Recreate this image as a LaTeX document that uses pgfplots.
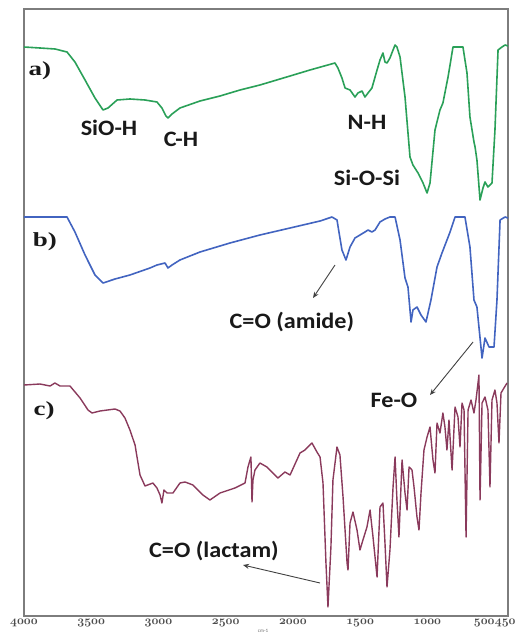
\documentclass[border=0pt]{standalone}
\usepackage{pgfplots}
\pgfplotsset{compat=1.18}
\usepackage{fontspec}
\setmainfont{Carlito}
\newfontfamily\lserif{Liberation Serif}
\usetikzlibrary{arrows.meta}
\definecolor{cgreen}{RGB}{42,160,88}
\definecolor{cblue}{RGB}{66,100,192}
\definecolor{cmaroon}{RGB}{138,58,92}
\definecolor{frame}{RGB}{125,125,125}
\newcommand\os[1]{{\usefont{OML}{cmm}{b}{it}#1}}
\pgfplotstableread{
wn y
4000 47
3881 48
3769 49
3680 52
3621 62
3546 80
3472 98
3412 110
3375 108
3308 100
3212 99
3100 100
3011 102
2974 108
2944 116
2929 118
2899 114
2840 108
2691 101
2542 96
2393 90
2245 85
2021 76
1873 70
1687 63
1665 68
1635 78
1612 88
1575 90
1538 97
1516 93
1486 91
1464 97
1441 93
1412 88
1374 70
1352 60
1330 53
1315 62
1300 63
1278 58
1255 50
1240 45
1226 47
1203 57
1166 97
1129 157
1107 165
1069 173
1032 183
1002 193
980 183
943 130
906 110
884 103
846 77
809 47
735 47
705 73
683 117
653 142
645 147
631 160
608 200
586 188
571 182
549 187
519 183
497 130
474 50
445 47
422 45
400 46
}\tabA
\pgfplotstableread{
wn y
4000 217
3680 217
3621 232
3546 255
3472 275
3412 283
3323 279
3212 275
3063 268
3011 265
2951 263
2929 268
2899 265
2840 260
2691 252
2468 243
2245 235
2021 228
1798 221
1709 217
1672 220
1635 250
1605 260
1575 247
1538 238
1501 235
1464 232
1441 230
1412 232
1389 230
1352 222
1315 219
1278 217
1240 217
1203 240
1166 278
1144 287
1121 322
1107 310
1077 307
1047 315
1010 322
973 300
928 267
891 253
831 232
794 217
720 217
683 247
653 300
631 307
593 358
571 338
541 347
504 347
482 300
459 220
422 217
400 218
}\tabB
\pgfplotstableread{
wn y
4000 385
3881 384
3806 386
3770 383
3732 386
3658 386
3583 398
3524 410
3494 413
3435 411
3323 409
3286 411
3249 418
3212 430
3174 445
3137 475
3100 486
3041 483
3011 488
2988 495
2974 503
2959 490
2936 493
2892 493
2840 483
2802 482
2743 485
2669 495
2617 500
2542 493
2431 488
2356 483
2334 467
2319 460
2312 457
2304 502
2297 480
2282 470
2245 463
2193 467
2111 478
2059 472
2021 475
1947 453
1910 450
1858 443
1821 452
1798 457
1776 483
1754 563
1739 607
1717 547
1702 480
1672 447
1650 455
1627 497
1597 563
1590 570
1575 523
1553 512
1523 530
1501 550
1479 540
1449 527
1426 510
1404 537
1374 577
1352 507
1330 503
1315 543
1300 587
1278 550
1255 487
1240 457
1226 500
1211 537
1188 460
1166 493
1151 510
1136 467
1114 470
1099 487
1077 517
1062 530
1047 493
1025 450
1002 437
980 427
958 460
943 473
928 423
906 433
884 413
869 427
854 450
839 420
816 470
794 407
772 417
757 447
742 403
727 410
712 537
697 410
675 400
653 413
638 400
616 375
608 500
593 403
571 397
549 410
534 487
519 400
497 390
482 403
467 443
452 393
430 388
407 383
}\tabC
\begin{document}
\begin{tikzpicture}[x=1pt,y=1pt]
\path[use as bounding box] (-24,-20) rectangle (492,616);
\begin{axis}[
  at={(0,0)}, anchor=south west,
  scale only axis, width=484pt, height=607pt,
  x dir=reverse, y dir=reverse,
  xmin=400, xmax=4000, ymin=9, ymax=616,
  ytick=\empty,
  xtick={4000,3500,3000,2500,2000,1500,1000,500},
  xticklabels={\os{4000},\os{3500},\os{3000},\os{2500},\os{2000},\os{1500},\os{1000},\makebox[0pt][r]{\os{500}}},
  extra x ticks={450},
  extra x tick labels={\os{450}},
  extra x tick style={xticklabel style={xshift=4pt}},
  major tick length=0pt,
  xticklabel style={font=\fontsize{13}{13}\selectfont, text=black!70, inner sep=1pt, yshift=-2pt},
  axis line style={frame, line width=1.6pt},
  clip=true,
]
\addplot[cgreen, line width=1.6pt, line join=round] table[x=wn,y=y] {\tabA};
\addplot[cblue, line width=1.6pt, line join=round] table[x=wn,y=y] {\tabB};
\addplot[cmaroon, line width=1.4pt, line join=round] table[x=wn,y=y] {\tabC};

\begin{scope}[every node/.style={inner sep=0pt, text=black!90}]
\node[font=\lserif\bfseries\fontsize{20}{20}\selectfont, xscale=1.35] at (axis cs:3881,71) {a)};
\node[font=\lserif\bfseries\fontsize{20}{20}\selectfont, xscale=1.35] at (axis cs:3844,242) {b)};
\node[font=\lserif\bfseries\fontsize{20}{20}\selectfont, xscale=1.35] at (axis cs:3851,411) {c)};
\node[font=\bfseries\fontsize{22}{22}\selectfont, xscale=1.1] at (axis cs:3368,128) {SiO-H};
\node[font=\bfseries\fontsize{22}{22}\selectfont, xscale=1.1] at (axis cs:2832,139) {C-H};
\node[font=\bfseries\fontsize{22}{22}\selectfont, xscale=1.1] at (axis cs:1449,122) {N-H};
\node[font=\bfseries\fontsize{22}{22}\selectfont, xscale=1.1] at (axis cs:1449,178) {Si-O-Si};
\node[font=\bfseries\fontsize{22}{22}\selectfont, xscale=1.1] at (axis cs:2007,322) {C=O (amide)};
\node[font=\bfseries\fontsize{22}{22}\selectfont, xscale=1.1] at (axis cs:1248,400) {Fe-O};
\node[font=\bfseries\fontsize{22}{22}\selectfont, xscale=1.1] at (axis cs:2587,551) {C=O (lactam)};
\end{scope}
\draw[-{Stealth[length=6pt,width=5pt]}, black!75, line width=0.9pt] (axis cs:1687,265) -- (axis cs:1850,298);
\draw[-{Stealth[length=6pt,width=5pt]}, black!75, line width=0.9pt] (axis cs:660,342) -- (axis cs:980,395);
\draw[-{Stealth[length=6pt,width=5pt]}, black!75, line width=0.9pt] (axis cs:1798,583) -- (axis cs:2371,565);
\end{axis}
\node[font=\fontsize{5}{5}\selectfont, text=black!60] at (239,-15) {cm-1};
\end{tikzpicture}
\end{document}
